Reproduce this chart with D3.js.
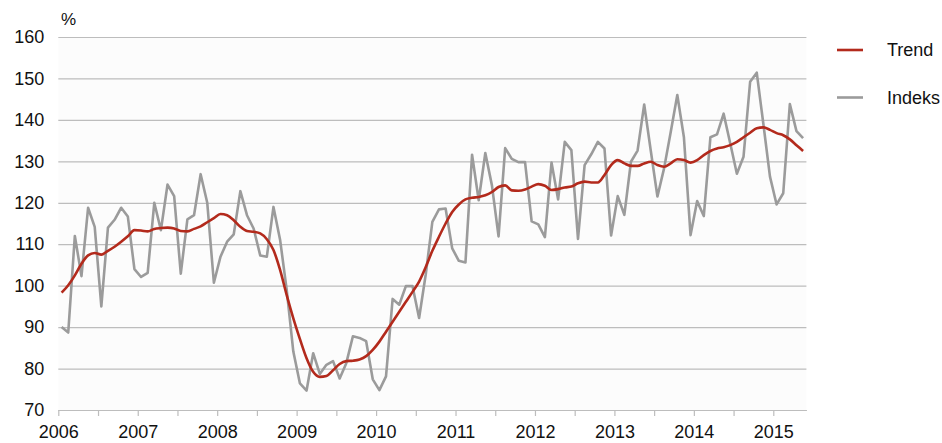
<!DOCTYPE html>
<html>
<head>
<meta charset="utf-8">
<script src="https://cdn.jsdelivr.net/npm/d3@7/dist/d3.min.js"></script>
<style>
  html, body { margin: 0; padding: 0; background: #ffffff; }
  svg { display: block; font-family: "Liberation Sans", Arial, sans-serif; }
</style>
</head>
<body>
<svg id="chart" width="942" height="443"></svg>
<script>
// ---- data (monthly, Jan 2006 – May 2015) ----
const startYear = 2006;
const yearLabels = ["2006","2007","2008","2009","2010","2011","2012","2013","2014","2015"];
const yTicks = [70, 80, 90, 100, 110, 120, 130, 140, 150, 160];
const seriesNames = ["Trend", "Indeks"];

const indeks = [
  90.0, 88.7, 112.0, 102.3, 118.8, 114.2, 95.0, 114.0, 115.9, 118.8, 116.7, 104.0,
  102.1, 103.1, 120.0, 113.4, 124.4, 121.6, 102.9, 116.0, 117.0, 126.9, 120.0, 100.7,
  107.0, 110.6, 112.4, 122.8, 117.0, 113.8, 107.3, 107.0, 119.0, 111.1, 99.0, 84.1,
  76.4, 74.7, 83.7, 78.7, 80.9, 81.8, 77.6, 81.3, 87.8, 87.4, 86.6, 77.4,
  74.8, 78.1, 96.8, 95.4, 99.9, 99.9, 92.2, 102.7, 115.4, 118.4, 118.6, 109.0,
  106.0, 105.6, 131.6, 120.6, 132.0, 124.2, 111.9, 133.2, 130.6, 129.8, 129.8, 115.5,
  114.8, 111.7, 129.7, 120.8, 134.7, 132.7, 111.3, 129.1, 131.7, 134.7, 133.1, 112.1,
  121.6, 117.1, 129.9, 132.6, 143.7, 132.5, 121.5, 128.3, 137.0, 146.0, 135.8, 112.2,
  120.4, 116.8, 135.8, 136.5, 141.5, 134.3, 127.0, 131.1, 149.2, 151.4, 139.0, 126.3,
  119.6, 122.3, 143.8, 137.3, 135.6
];

const trend = [
  98.3, 100.1, 102.5, 105.3, 107.3, 107.9, 107.5, 108.4, 109.4, 110.6, 111.9, 113.4,
  113.3, 113.1, 113.7, 113.9, 114.0, 113.8, 113.2, 113.1, 113.7, 114.3, 115.3, 116.3,
  117.3, 117.0, 115.8, 114.2, 113.2, 113.0, 112.6, 111.2, 108.6, 103.8, 97.7, 92.1,
  87.1, 82.5, 79.2, 78.0, 78.2, 79.6, 81.1, 81.8, 81.9, 82.2, 83.0, 84.5,
  86.5, 88.9, 91.3, 93.7, 96.1, 98.5, 101.0, 104.5, 108.4, 111.8, 115.0, 117.8,
  119.6, 120.8, 121.2, 121.4, 121.8, 122.6, 123.8, 124.2, 123.0, 122.9, 123.2, 123.9,
  124.5, 124.1, 123.1, 123.3, 123.7, 123.9, 124.7, 125.1, 124.9, 124.9, 126.7, 129.1,
  130.3, 129.5, 128.9, 128.9, 129.5, 129.9, 129.1, 128.7, 129.5, 130.5, 130.3, 129.7,
  130.3, 131.5, 132.5, 133.1, 133.4, 133.9, 134.7, 135.8, 136.9, 138.0, 138.2, 137.6,
  136.8, 136.3, 135.3, 133.9, 132.5
];

// ---- layout ----
const svg = d3.select("#chart");
const plot = { left: 58.3, right: 806.4, top: 37, bottom: 410 };
const colors = { Trend: "#b32a1c", Indeks: "#9b9b9b" };
const n = indeks.length;

const x = d3.scaleLinear().domain([-0.5, n - 0.5]).range([plot.left, plot.right]);
const y = d3.scaleLinear().domain([70, 160]).range([plot.bottom, plot.top]);

// plot background
svg.append("rect")
  .attr("x", plot.left).attr("y", plot.top)
  .attr("width", plot.right - plot.left).attr("height", plot.bottom - plot.top)
  .attr("fill", "#fcfcfc");

// y axis with gridlines
const yAxis = d3.axisLeft(y)
  .tickValues(yTicks)
  .tickSize(-(plot.right - plot.left))
  .tickPadding(14)
  .tickFormat(d3.format("d"));
const gy = svg.append("g").attr("transform", `translate(${plot.left},0)`).call(yAxis);
gy.select(".domain").remove();
gy.selectAll(".tick line").attr("stroke", "#bdbdbd").attr("stroke-width", 1.2);
gy.selectAll(".tick text")
  .attr("fill", "#111").attr("font-size", "18px")
  .attr("font-family", "Liberation Sans, Arial, sans-serif");

// x axis
const halfYearTicks = d3.range(0, 19).map(k => -0.5 + 6 * k);
const xAxis = d3.axisBottom(x)
  .tickValues(halfYearTicks)
  .tickSize(6)
  .tickSizeOuter(0)
  .tickPadding(9)
  .tickFormat((d) => {
    const k = Math.round((d + 0.5) / 12);
    return ((d + 0.5) % 12 === 0) ? yearLabels[k] : "";
  });
const gx = svg.append("g").attr("transform", `translate(0,${plot.bottom})`).call(xAxis);
gx.select(".domain").attr("stroke", "#bdbdbd").attr("stroke-width", 1.2);
gx.selectAll(".tick line").attr("stroke", "#bdbdbd").attr("stroke-width", 1.2);
gx.selectAll(".tick text")
  .attr("fill", "#111").attr("font-size", "18px")
  .attr("font-family", "Liberation Sans, Arial, sans-serif");

// unit label
svg.append("text")
  .attr("x", 61).attr("y", 25)
  .attr("font-size", "17px").attr("fill", "#111")
  .text("%");

// lines
const lineGen = d3.line()
  .x((d, i) => x(i))
  .y(d => y(d));

svg.append("path")
  .datum(indeks)
  .attr("fill", "none")
  .attr("stroke", colors.Indeks)
  .attr("stroke-width", 2.6)
  .attr("stroke-linejoin", "round")
  .attr("d", lineGen);

svg.append("path")
  .datum(trend)
  .attr("fill", "none")
  .attr("stroke", colors.Trend)
  .attr("stroke-width", 2.6)
  .attr("stroke-linejoin", "round")
  .attr("d", lineGen.curve(d3.curveMonotoneX));

// legend
const legend = svg.append("g");
seriesNames.forEach((name, i) => {
  const ly = 50 + i * 47.5;
  legend.append("line")
    .attr("x1", 837).attr("x2", 863)
    .attr("y1", ly).attr("y2", ly)
    .attr("stroke", colors[name]).attr("stroke-width", 2.6);
  legend.append("text")
    .attr("x", 887).attr("y", ly)
    .attr("dy", "0.36em")
    .attr("font-size", "18px").attr("fill", "#111")
    .text(name);
});
</script>
</body>
</html>
